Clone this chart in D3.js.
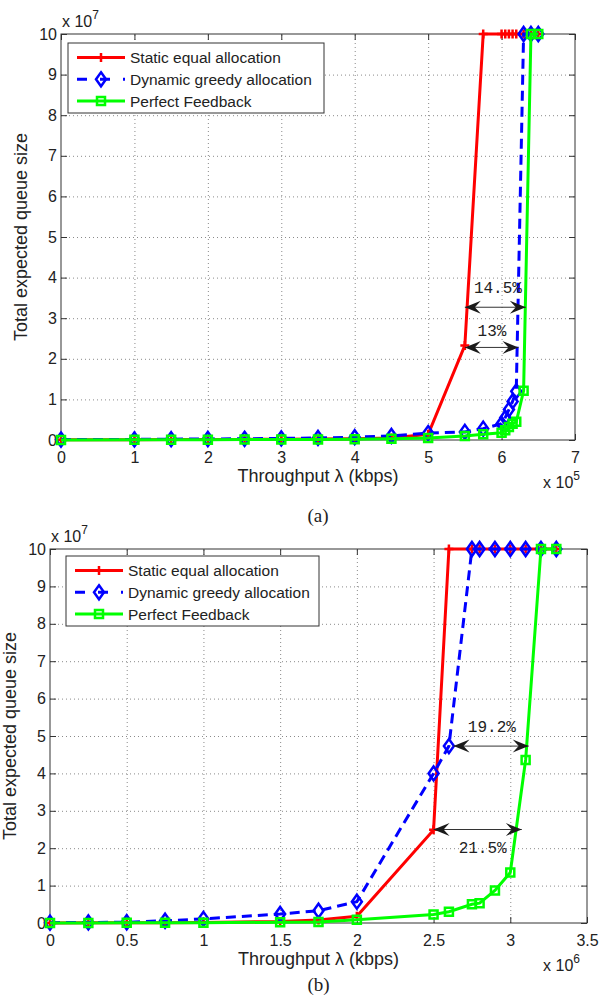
<!DOCTYPE html>
<html>
<head>
<meta charset="utf-8">
<script src="https://cdn.jsdelivr.net/npm/d3@7"></script>
<style>
  body { margin: 0; background: #fff; }
  svg text { font-family: "Liberation Sans", Arial, Helvetica, sans-serif; fill: #222; }
</style>
</head>
<body>
<div id="chart"></div>
<script>
// ---- data (y in units of 1e7) ----
const seriesNames = ['Static equal allocation', 'Dynamic greedy allocation', 'Perfect Feedback'];

// panel (a): x in units of 1e5 kbps
const staticXA = [0, 1, 1.5, 2, 2.5, 3, 3.5, 4, 4.5, 5, 5.5, 5.75, 6, 6.05, 6.1, 6.15, 6.2, 6.3, 6.4, 6.5];
const staticYA = [0.005, 0.008, 0.01, 0.012, 0.015, 0.02, 0.025, 0.03, 0.05, 0.14, 2.33, 10, 10, 10, 10, 10, 10, 10, 10, 10];
const greedyXA = [0, 1, 1.5, 2, 2.5, 3, 3.5, 4, 4.5, 5, 5.5, 5.75, 6, 6.05, 6.1, 6.15, 6.2, 6.3, 6.4, 6.5];
const greedyYA = [0.01, 0.015, 0.02, 0.025, 0.03, 0.04, 0.05, 0.07, 0.1, 0.17, 0.2, 0.28, 0.4, 0.55, 0.75, 0.95, 1.2, 10, 10, 10];
const feedbackXA = [0, 1, 1.5, 2, 2.5, 3, 3.5, 4, 4.5, 5, 5.5, 5.75, 6, 6.05, 6.1, 6.15, 6.2, 6.3, 6.4, 6.5];
const feedbackYA = [0.003, 0.005, 0.006, 0.008, 0.01, 0.012, 0.015, 0.02, 0.03, 0.05, 0.1, 0.14, 0.18, 0.24, 0.32, 0.4, 0.45, 1.21, 10, 10];

// panel (b): x in units of 1e6 kbps
const staticXB = [0, 0.25, 0.5, 0.75, 1, 1.5, 1.75, 2, 2.5, 2.6, 2.75, 2.8, 2.9, 3, 3.1, 3.2, 3.3];
const staticYB = [0.003, 0.004, 0.005, 0.008, 0.012, 0.04, 0.08, 0.18, 2.49, 10, 10, 10, 10, 10, 10, 10, 10];
const greedyXB = [0, 0.25, 0.5, 0.75, 1, 1.5, 1.75, 2, 2.5, 2.6, 2.75, 2.8, 2.9, 3, 3.1, 3.2, 3.3];
const greedyYB = [0.01, 0.015, 0.02, 0.06, 0.11, 0.24, 0.33, 0.57, 4.0, 4.73, 10, 10, 10, 10, 10, 10, 10];
const feedbackXB = [0, 0.25, 0.5, 0.75, 1, 1.5, 1.75, 2, 2.5, 2.6, 2.75, 2.8, 2.9, 3, 3.1, 3.2, 3.3];
const feedbackYB = [0.002, 0.003, 0.004, 0.006, 0.01, 0.02, 0.03, 0.09, 0.23, 0.3, 0.5, 0.53, 0.87, 1.35, 4.36, 10, 10];

const yTicks = [0, 1, 2, 3, 4, 5, 6, 7, 8, 9, 10];
const xTicksA = [0, 1, 2, 3, 4, 5, 6, 7];
const xTicksB = [0, 0.5, 1, 1.5, 2, 2.5, 3, 3.5];

// gap annotations: arrow from x1 to x2 at height y, label centred at (tx, ty)
const gapsA = [
  { label: '14.5%', x1: 5.5, x2: 6.33, y: 3.27, tx: 5.95, ty: 3.77 },
  { label: '13%', x1: 5.5, x2: 6.23, y: 2.28, tx: 5.87, ty: 2.69 },
];
const gapsB = [
  { label: '19.2%', x1: 2.63, x2: 3.12, y: 4.73, tx: 2.88, ty: 5.27 },
  { label: '21.5%', x1: 2.5, x2: 3.075, y: 2.5, tx: 2.82, ty: 2.02 },
];

// ---- styles & layout ----
const seriesStyles = [
  { color: '#ff0000', dash: null, marker: 'M-4.5,0H4.5M0,-4.5V4.5' },
  { color: '#0000ff', dash: '10,6', marker: 'M0,-7L5,0L0,7L-5,0Z' },
  { color: '#00ff00', dash: null, marker: 'M-4,-4H4V4H-4Z' },
];

const panels = [
  {
    left: 61, right: 575, top: 34, bottom: 440,
    xTicks: xTicksA, xExp: '5', expX: 580, captionY: 522, caption: '(a)',
    series: [[staticXA, staticYA], [greedyXA, greedyYA], [feedbackXA, feedbackYA]],
    gaps: gapsA,
    legend: { x: 68, y: 43, w: 256, h: 70 },
  },
  {
    left: 50, right: 587, top: 549, bottom: 923,
    xTicks: xTicksB, xExp: '6', expX: 580, captionY: 991, caption: '(b)',
    series: [[staticXB, staticYB], [greedyXB, greedyYB], [feedbackXB, feedbackYB]],
    gaps: gapsB,
    legend: { x: 66, y: 556, w: 253, h: 70 },
  },
];

const svg = d3.select('#chart').append('svg').attr('width', 600).attr('height', 995);

const defs = svg.append('defs');
defs
  .append('marker')
  .attr('id', 'head')
  .attr('markerUnits', 'userSpaceOnUse')
  .attr('viewBox', '-17 -8 18 16')
  .attr('markerWidth', 18)
  .attr('markerHeight', 16)
  .attr('refX', 0)
  .attr('refY', 0)
  .attr('orient', 'auto-start-reverse')
  .append('path')
  .attr('d', 'M0,0L-16,-6.5L-10,0L-16,6.5Z')
  .attr('fill', '#1a1a1a');

const drawPanel = (p) => {
  const xMax = p.xTicks[p.xTicks.length - 1];
  const x = d3.scaleLinear().domain([0, xMax]).range([p.left, p.right]);
  const y = d3.scaleLinear().domain([0, 10]).range([p.bottom, p.top]);
  const g = svg.append('g');

  // dotted grid
  g.append('g')
    .attr('transform', `translate(0, ${p.bottom})`)
    .call(d3.axisBottom(x).tickValues(p.xTicks.slice(1, -1)).tickSize(-(p.bottom - p.top)).tickFormat(''))
    .call((s) => s.select('.domain').remove())
    .selectAll('line')
    .attr('stroke', '#8a8a8a')
    .attr('stroke-dasharray', '1,3');
  g.append('g')
    .attr('transform', `translate(${p.left}, 0)`)
    .call(d3.axisLeft(y).tickValues(yTicks.slice(1, -1)).tickSize(-(p.right - p.left)).tickFormat(''))
    .call((s) => s.select('.domain').remove())
    .selectAll('line')
    .attr('stroke', '#8a8a8a')
    .attr('stroke-dasharray', '1,3');

  // axes with inward ticks on all four sides
  const styleAxis = (s) => {
    s.select('.domain').remove();
    s.selectAll('line').attr('stroke', '#333');
    s.selectAll('text').style('font-size', '16px').attr('fill', '#222');
  };
  g.append('g')
    .attr('transform', `translate(0, ${p.bottom})`)
    .call(d3.axisBottom(x).tickValues(p.xTicks).tickSizeInner(-6).tickSizeOuter(0).tickPadding(12)
      .tickFormat((d) => String(d)))
    .call(styleAxis);
  g.append('g')
    .attr('transform', `translate(0, ${p.top})`)
    .call(d3.axisTop(x).tickValues(p.xTicks).tickSizeInner(-6).tickSizeOuter(0).tickFormat(''))
    .call(styleAxis);
  g.append('g')
    .attr('transform', `translate(${p.left}, 0)`)
    .call(d3.axisLeft(y).tickValues(yTicks).tickSizeInner(-6).tickSizeOuter(0).tickPadding(4))
    .call(styleAxis);
  g.append('g')
    .attr('transform', `translate(${p.right}, 0)`)
    .call(d3.axisRight(y).tickValues(yTicks).tickSizeInner(-6).tickSizeOuter(0).tickFormat(''))
    .call(styleAxis);

  g.append('rect')
    .attr('x', p.left)
    .attr('y', p.top)
    .attr('width', p.right - p.left)
    .attr('height', p.bottom - p.top)
    .attr('fill', 'none')
    .attr('stroke', '#333')
    .attr('stroke-width', 1);

  // series
  const line = d3.line().x((d) => x(d[0])).y((d) => y(d[1]));
  p.series.forEach(([xs, ys], i) => {
    const st = seriesStyles[i];
    const pts = xs.map((v, k) => [v, ys[k]]);
    g.append('path')
      .datum(pts)
      .attr('d', line)
      .attr('fill', 'none')
      .attr('stroke', st.color)
      .attr('stroke-width', 3)
      .attr('stroke-dasharray', st.dash);
    g.append('g')
      .selectAll('path')
      .data(pts)
      .join('path')
      .attr('transform', (d) => `translate(${x(d[0])}, ${y(d[1])})`)
      .attr('d', st.marker)
      .attr('fill', 'none')
      .attr('stroke', st.color)
      .attr('stroke-width', 2.5);
  });

  // gap arrows and percentages
  p.gaps.forEach((a) => {
    g.append('line')
      .attr('x1', x(a.x1))
      .attr('x2', x(a.x2))
      .attr('y1', y(a.y))
      .attr('y2', y(a.y))
      .attr('stroke', '#333')
      .attr('stroke-width', 1)
      .attr('marker-start', 'url(#head)')
      .attr('marker-end', 'url(#head)');
    g.append('text')
      .attr('x', x(a.tx))
      .attr('y', y(a.ty))
      .attr('dy', '0.35em')
      .attr('text-anchor', 'middle')
      .style('font-family', '"Liberation Mono", "Courier New", monospace')
      .style('font-size', '16px')
      .attr('fill', '#1a1a1a')
      .text(a.label);
  });

  // legend
  const lg = g.append('g').attr('transform', `translate(${p.legend.x}, ${p.legend.y})`);
  lg.append('rect')
    .attr('width', p.legend.w)
    .attr('height', p.legend.h)
    .attr('fill', '#fff')
    .attr('stroke', '#333')
    .attr('stroke-width', 1);
  seriesNames.forEach((name, i) => {
    const st = seriesStyles[i];
    const cy = 14.5 + i * 21.8;
    lg.append('line')
      .attr('x1', 9)
      .attr('x2', 57)
      .attr('y1', cy)
      .attr('y2', cy)
      .attr('stroke', st.color)
      .attr('stroke-width', 3)
      .attr('stroke-dasharray', st.dash ? '10,13' : null);
    lg.append('path')
      .attr('transform', `translate(33, ${cy})`)
      .attr('d', st.marker)
      .attr('fill', 'none')
      .attr('stroke', st.color)
      .attr('stroke-width', 2.5);
    lg.append('text')
      .attr('x', 62)
      .attr('y', cy)
      .attr('dy', '0.36em')
      .style('font-size', '15.5px')
      .text(name);
  });

  // labels
  const midY = (p.top + p.bottom) / 2;
  svg.append('text')
    .attr('transform', `translate(${p.left - 34}, ${midY}) rotate(-90)`)
    .attr('text-anchor', 'middle')
    .style('font-size', '18px')
    .text('Total expected queue size');
  svg.append('text')
    .attr('x', (p.left + p.right) / 2)
    .attr('y', p.bottom + 42)
    .attr('text-anchor', 'middle')
    .style('font-size', '18px')
    .text('Throughput λ (kbps)');

  const expY = svg.append('text')
    .attr('x', p.left + 1)
    .attr('y', p.top - 7)
    .style('font-size', '16px');
  expY.append('tspan').text('x 10');
  expY.append('tspan').attr('dy', -8).style('font-size', '12px').text('7');

  const expX = svg.append('text')
    .attr('x', p.expX)
    .attr('y', p.bottom + 48)
    .attr('text-anchor', 'end')
    .style('font-size', '16px');
  expX.append('tspan').text('x 10');
  expX.append('tspan').attr('dy', -8).style('font-size', '12px').text(p.xExp);

  svg.append('text')
    .attr('x', (p.left + p.right) / 2)
    .attr('y', p.captionY)
    .attr('text-anchor', 'middle')
    .style('font-family', '"Liberation Serif", "Times New Roman", serif')
    .style('font-size', '19px')
    .text(p.caption);
};

panels.forEach(drawPanel);
</script>
</body>
</html>
